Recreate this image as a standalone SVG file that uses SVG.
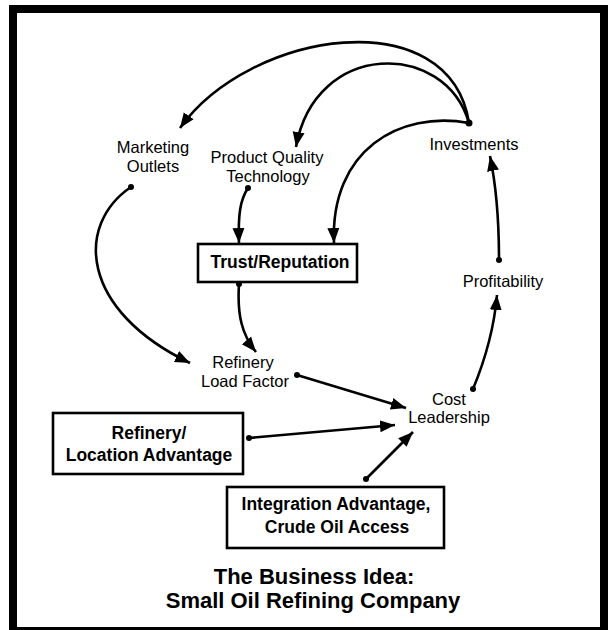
<svg xmlns="http://www.w3.org/2000/svg" width="608" height="630" viewBox="0 0 608 630">
<style>
  .lbl{font-family:"Liberation Sans",Arial,sans-serif;font-size:16.5px;fill:#000;text-anchor:middle}
  .blbl{font-family:"Liberation Sans",Arial,sans-serif;font-size:17.5px;font-weight:bold;fill:#000;text-anchor:middle}
  .title{font-family:"Liberation Sans",Arial,sans-serif;font-size:22px;font-weight:bold;fill:#000;text-anchor:middle}
  .box{fill:#fff;stroke:#000;stroke-width:2.6}
  .con{fill:none;stroke:#000;stroke-width:2.6;marker-end:url(#arr)}
  .dot{fill:#000}
</style>
<defs>
  <marker id="arr" markerUnits="userSpaceOnUse" markerWidth="16" markerHeight="13" refX="15" refY="6.5" orient="auto" viewBox="0 0 16 13">
    <path d="M0,0.5 L15,6.5 L0,12.5 z" fill="#000"/>
  </marker>
</defs>
<rect x="0" y="0" width="608" height="630" fill="#fff"/>
<rect id="frame" x="13" y="9" width="591" height="622" fill="none" stroke="#000" stroke-width="8"/>

<g id="connectors">
  <path class="con" d="M469,123 C450,0 250,30 180,128"/>
  <path class="con" d="M469,123 C445,40 315,40 296,147"/>
  <path class="con" d="M469,123 C400,110 330,150 334,243"/>
  <path class="con" d="M131,187 C75,225 80,310 190,363"/>
  <path class="con" d="M248,188 C240,200 238,215 239,243"/>
  <path class="con" d="M239,284 C237,315 242,335 256,352"/>
  <path class="con" d="M297,375 L406,408"/>
  <path class="con" d="M249,438 L395,425"/>
  <path class="con" d="M366,479 L413,432"/>
  <path class="con" d="M473,389 C485,360 494,330 497,295"/>
  <path class="con" d="M499,260 C499,220 496,185 490,156"/>
  <circle class="dot" cx="469" cy="123" r="3.5"/>
  <circle class="dot" cx="131" cy="187" r="3"/>
  <circle class="dot" cx="248" cy="188" r="3"/>
  <circle class="dot" cx="239" cy="284" r="3"/>
  <circle class="dot" cx="297" cy="375" r="3"/>
  <circle class="dot" cx="249" cy="438" r="3"/>
  <circle class="dot" cx="366" cy="479" r="3"/>
  <circle class="dot" cx="473" cy="389" r="3"/>
  <circle class="dot" cx="499" cy="260" r="3"/>
</g>

<g id="marketing-outlets">
  <text class="lbl" x="153" y="153">Marketing</text>
  <text class="lbl" x="153" y="172">Outlets</text>
</g>
<g id="product-quality">
  <text class="lbl" x="267" y="163">Product Quality</text>
  <text class="lbl" x="268" y="182">Technology</text>
</g>
<g id="investments">
  <text class="lbl" x="474" y="150">Investments</text>
</g>
<g id="trust-reputation">
  <rect class="box" x="198" y="244" width="159" height="38"/>
  <text class="blbl" x="280" y="268">Trust/Reputation</text>
</g>
<g id="profitability">
  <text class="lbl" x="503" y="287">Profitability</text>
</g>
<g id="refinery-load-factor">
  <text class="lbl" x="243" y="368">Refinery</text>
  <text class="lbl" x="245" y="387">Load Factor</text>
</g>
<g id="cost-leadership">
  <text class="lbl" x="449" y="405">Cost</text>
  <text class="lbl" x="449" y="423">Leadership</text>
</g>
<g id="refinery-location">
  <rect class="box" x="53" y="413" width="190" height="61"/>
  <text class="blbl" x="149" y="439">Refinery/</text>
  <text class="blbl" x="149" y="461">Location Advantage</text>
</g>
<g id="integration">
  <rect class="box" x="227" y="487" width="217" height="61"/>
  <text class="blbl" x="336" y="510">Integration Advantage,</text>
  <text class="blbl" x="337" y="533">Crude Oil Access</text>
</g>
<g id="title">
  <text class="title" x="314" y="584">The Business Idea:</text>
  <text class="title" x="313" y="608">Small Oil Refining Company</text>
</g>
</svg>
